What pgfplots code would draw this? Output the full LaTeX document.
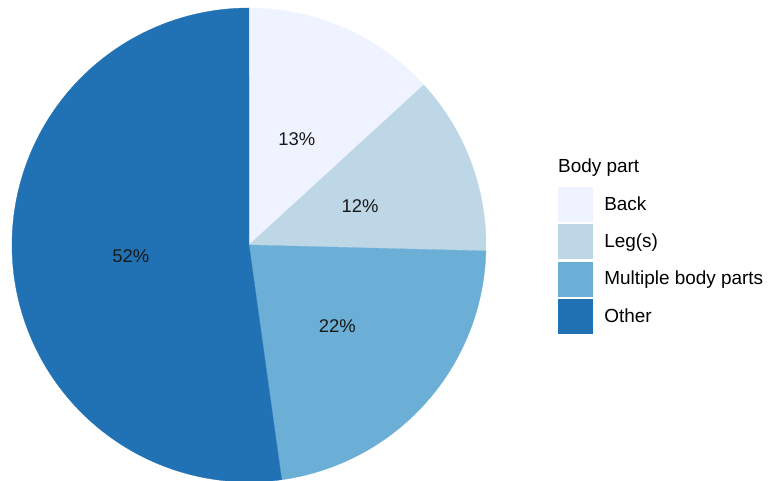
\documentclass[border=0pt]{standalone}
\usepackage{pgfplots}
\usepackage{pgfplotstable}
\pgfplotsset{compat=1.18}
\usepackage{fontspec}
\setmainfont{Liberation Sans}
\definecolor{cBack}{HTML}{EFF3FF}
\definecolor{cLeg}{HTML}{BDD7E7}
\definecolor{cMult}{HTML}{6BAED6}
\definecolor{cOther}{HTML}{2171B5}
\tikzset{pct/.style={font=\fontsize{18.5}{22}\selectfont, yshift=-2.5bp, text=black!90}}

\pgfplotstableread{
part share label
Back 13.2 13
Leg 12.2 12
Multiple 22.4 22
Other 52.2 52
}\piedata

\begin{document}%
\pgfplotstablegetelem{0}{share}\of\piedata \let\sA\pgfplotsretval%
\pgfplotstablegetelem{1}{share}\of\piedata \let\sB\pgfplotsretval%
\pgfplotstablegetelem{2}{share}\of\piedata \let\sC\pgfplotsretval%
\pgfplotstablegetelem{3}{share}\of\piedata \let\sD\pgfplotsretval%
\pgfmathsetmacro\eA{3.6*\sA}%
\pgfmathsetmacro\eB{\eA+3.6*\sB}%
\pgfmathsetmacro\eC{\eB+3.6*\sC}%
\pgfmathsetmacro\eD{\eC+3.6*\sD}%
\pgfmathsetmacro\mA{\eA/2}%
\pgfmathsetmacro\mB{(\eA+\eB)/2}%
\pgfmathsetmacro\mC{(\eB+\eC)/2}%
\pgfmathsetmacro\mD{(\eC+\eD)/2}%
\begin{tikzpicture}[x=1bp,y=1bp]
\begin{axis}[
  at={(12bp,-1bp)}, anchor=south west,
  scale only axis, width=474bp, height=474bp,
  hide axis, clip=false,
  xmin=-1, xmax=1, ymin=-1, ymax=1,
  legend cell align=left,
  legend style={at={(1.1519,0.6224)}, anchor=north west, draw=none, fill=none,
    inner sep=0pt, outer sep=0pt, row sep=3bp, column sep=12bp,
    font=\fontsize{19}{22}\selectfont,
    nodes={inner sep=0pt}},
  legend image code/.code={\fill[#1] (0bp,-17bp) rectangle (34bp,17bp);},
]
\addplot[fill=cBack, draw=cBack, line width=0.3bp, domain=0:\eA, samples=80, variable=\t] ({sin(\t)},{cos(\t)}) -- (axis cs:0,0) -- cycle;
\addlegendentry{Back}
\addplot[fill=cLeg, draw=cLeg, line width=0.3bp, domain=\eA:\eB, samples=80, variable=\t] ({sin(\t)},{cos(\t)}) -- (axis cs:0,0) -- cycle;
\addlegendentry{Leg(s)}
\addplot[fill=cMult, draw=cMult, line width=0.3bp, domain=\eB:\eC, samples=80, variable=\t] ({sin(\t)},{cos(\t)}) -- (axis cs:0,0) -- cycle;
\addlegendentry{Multiple body parts}
\addplot[fill=cOther, draw=cOther, line width=0.3bp, domain=\eC:\eD, samples=160, variable=\t] ({sin(\t)},{cos(\t)}) -- (axis cs:0,0) -- cycle;
\addlegendentry{Other}
\node[pct] at (axis cs:{0.5*sin(\mA)},{0.5*cos(\mA)}) {13\%};
\node[pct] at (axis cs:{0.5*sin(\mB)},{0.5*cos(\mB)}) {12\%};
\node[pct] at (axis cs:{0.5*sin(\mC)},{0.5*cos(\mC)}) {22\%};
\node[pct] at (axis cs:{0.5*sin(\mD)},{0.5*cos(\mD)}) {52\%};
\end{axis}
\node[anchor=base west, inner sep=0pt, font=\fontsize{19}{22}\selectfont] at (558,308) {Body part};
\pgfresetboundingbox
\path[use as bounding box] (0,0) rectangle (772,481);
\end{tikzpicture}%
\end{document}
